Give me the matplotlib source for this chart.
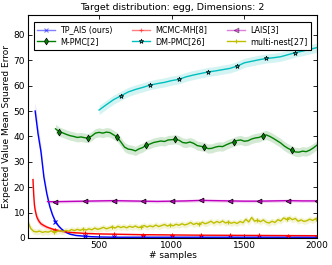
import numpy as np
import matplotlib
matplotlib.use("Agg")
import matplotlib.pyplot as plt

# ---- data ----
x_tp = [60, 80, 100, 120, 140, 160, 180, 200, 220, 240, 260, 280, 300, 340,
        380, 400, 450, 500, 600, 800, 1000, 1200, 1400, 1600, 1800, 2000]
y_tp = [50, 41, 34, 24, 17.5, 12.5, 9, 6.4, 4.8, 3.6, 2.7, 2.0, 1.5, 1.0,
        0.8, 0.7, 0.5, 0.4, 0.3, 0.3, 0.3, 0.3, 0.3, 0.3, 0.3, 0.3]
e_tp = [3.5, 3.0, 2.5, 2.0, 1.6, 1.3, 1.0, 0.8, 0.6, 0.5, 0.4, 0.3, 0.3, 0.2,
        0.2, 0.2, 0.2, 0.2, 0.1, 0.1, 0.1, 0.1, 0.1, 0.1, 0.1, 0.1]

x_mh = [45, 50, 55, 60, 70, 80, 90, 100, 120, 140, 160, 180, 200, 250, 300,
        400, 500, 600, 800, 1000, 1200, 1400, 1600, 1800, 2000]
y_mh = [23, 17, 13, 11, 8.5, 7.2, 6.3, 5.6, 4.9, 4.3, 3.9, 3.5, 3.2, 2.6, 2.2,
        1.8, 1.6, 1.5, 1.3, 1.2, 1.1, 1.05, 1.0, 0.95, 0.9]
e_mh = [4.0, 3.0, 2.4, 2.0, 1.6, 1.3, 1.1, 1.0, 0.8, 0.7, 0.6, 0.5, 0.5, 0.4,
        0.4, 0.3, 0.3, 0.3, 0.3, 0.2, 0.2, 0.2, 0.2, 0.2, 0.2]

x_lais = [145, 200, 300, 400, 500, 600, 700, 800, 900, 1000, 1100, 1200, 1300,
          1400, 1500, 1600, 1700, 1800, 1900, 2000]
y_lais = [14.3, 14.3, 14.4, 14.5, 14.6, 14.7, 14.6, 14.5, 14.4, 14.5, 14.6,
          14.8, 14.7, 14.6, 14.5, 14.5, 14.6, 14.7, 14.6, 14.6]
e_lais = 0.6

x_mpmc = list(range(200, 2001, 25))
y_mpmc = [43.0, 41.9, 41.4, 40.8, 40.3, 40.0, 39.6, 39.8, 39.5, 39.3, 40.2,
          41.3, 41.6, 41.3, 41.7, 41.5, 40.6, 39.7, 37.8, 35.8, 35.0, 34.8,
          34.3, 35.1, 35.6, 36.6, 37.0, 37.6, 37.9, 38.2, 38.0, 38.6, 38.7,
          38.9, 38.5, 37.6, 37.4, 37.8, 37.3, 36.4, 36.1, 35.9, 35.2, 35.3,
          35.8, 36.1, 36.0, 36.7, 37.3, 37.8, 38.4, 38.6, 38.1, 38.3, 39.0,
          39.4, 39.6, 40.2, 40.6, 40.0, 39.2, 38.3, 37.4, 36.2, 35.3, 34.6,
          33.9, 33.8, 34.2, 34.0, 34.6, 35.5, 36.6]
e_mpmc = 1.8

x_dm = list(range(500, 2001, 50))
y_dm = [50.4, 52.5, 54.5, 56.0, 57.5, 58.5, 59.3, 60.2, 60.8, 61.3, 62.0,
        62.5, 63.5, 64.2, 64.8, 65.4, 65.8, 66.3, 66.8, 67.7, 69.0, 69.6,
        70.2, 70.7, 71.0, 71.4, 72.2, 73.0, 73.6, 74.3, 75.0]
e_dm = 1.8

x_mn = list(range(10, 2000, 20)) + [2000]
y_mn = [6.4, 3.7, 2.6, 2.4, 2.7, 2.2, 2.5, 2.3, 2.8, 2.4,
        2.6, 2.9, 2.5, 3.0, 2.7, 3.3, 2.9, 3.4, 3.0, 3.5,
        3.1, 3.6, 3.2, 3.9, 3.4, 3.7, 4.2, 3.6, 4.0, 4.4,
        3.9, 4.6, 4.1, 4.5, 4.0, 4.6, 4.2, 4.7, 4.1, 4.4,
        4.9, 4.3, 4.8, 4.4, 5.1, 4.5, 4.9, 5.3, 4.7, 5.2,
        4.8, 5.4, 5.0, 5.6, 5.1, 5.5, 6.1, 5.3, 5.8, 5.4,
        6.2, 5.6, 6.0, 6.6, 5.8, 6.5, 6.0, 6.7, 5.9, 6.3,
        5.8, 6.2, 5.7, 6.5, 6.0, 7.4, 6.3, 8.1, 6.6, 7.0,
        6.4, 7.1, 6.2, 5.9, 6.6, 6.1, 7.2, 6.7, 7.9, 7.3,
        8.0, 7.2, 7.7, 6.6, 7.1, 6.5, 6.8, 7.4, 6.9, 7.6,
        7.2]
e_mn = 1.2


def marks(xs, start, step=200):
    return [i for i, v in enumerate(xs) if v >= start and (v - start) % step == 0]


plt.rcParams['font.family'] = 'DejaVu Sans'
fig = plt.figure(figsize=(3.32, 2.65), dpi=100)
ax = fig.add_axes([0.084, 0.102, 0.871, 0.843])

series = [
    ("TP_AIS (ours)", x_tp, y_tp, e_tp, 'b', 'x', marks(x_tp, 200)),
    ("M-PMC[2]", x_mpmc, y_mpmc, e_mpmc, 'g', 'd', marks(x_mpmc, 225)),
    ("MCMC-MH[8]", x_mh, y_mh, e_mh, 'r', '+', marks(x_mh, 200)),
    ("DM-PMC[26]", x_dm, y_dm, e_dm, 'c', '*', marks(x_dm, 650)),
    ("LAIS[3]", x_lais, y_lais, e_lais, 'm', '<', marks(x_lais, 200)),
    ("multi-nest[27]", x_mn, y_mn, e_mn, 'y', '+', marks(x_mn, 190)),
]

for label, xs, ys, err, col, mk, mev in series:
    xs = np.asarray(xs, float)
    ys = np.asarray(ys, float)
    err = np.asarray(err, float)
    ax.fill_between(xs, ys - err, ys + err, color=col, alpha=0.17, lw=0)
    mec = 'k' if mk in ('d', '*', '<') else col
    ax.plot(xs, ys, color=col, lw=1.0, marker=mk, markevery=mev, ms=3.5,
            mec=mec, mew=0.5 if mec == 'k' else 0.8, label=label)

ax.set_xlim(10, 2000)
ax.set_ylim(0, 88)
ax.set_xticks([500, 1000, 1500, 2000])
ax.set_yticks(range(0, 81, 10))
ax.tick_params(direction='in', top=True, right=True, labelsize=6.5,
               length=3, width=0.6, pad=2)
for s in ax.spines.values():
    s.set_linewidth(0.8)

ax.set_title("Target distribution: egg, Dimensions: 2", fontsize=6.8, pad=3)
ax.set_xlabel("# samples", fontsize=6.5, labelpad=1)
ax.set_ylabel("Expected Value Mean Squared Error", fontsize=6.5, labelpad=2)

leg = ax.legend(loc='upper center', ncol=3, fontsize=5.8, fancybox=False,
                edgecolor='k', framealpha=1, handlelength=2.2,
                handletextpad=0.7, columnspacing=2.4, borderpad=0.45,
                labelspacing=0.3, bbox_to_anchor=(0.5, 0.985))
leg.get_frame().set_linewidth(0.8)
# the reference legend shows the first row of handles washed out
for i in (0, 2, 4):
    leg.legend_handles[i].set_alpha(0.5)

fig.savefig("out.png", dpi=100)
